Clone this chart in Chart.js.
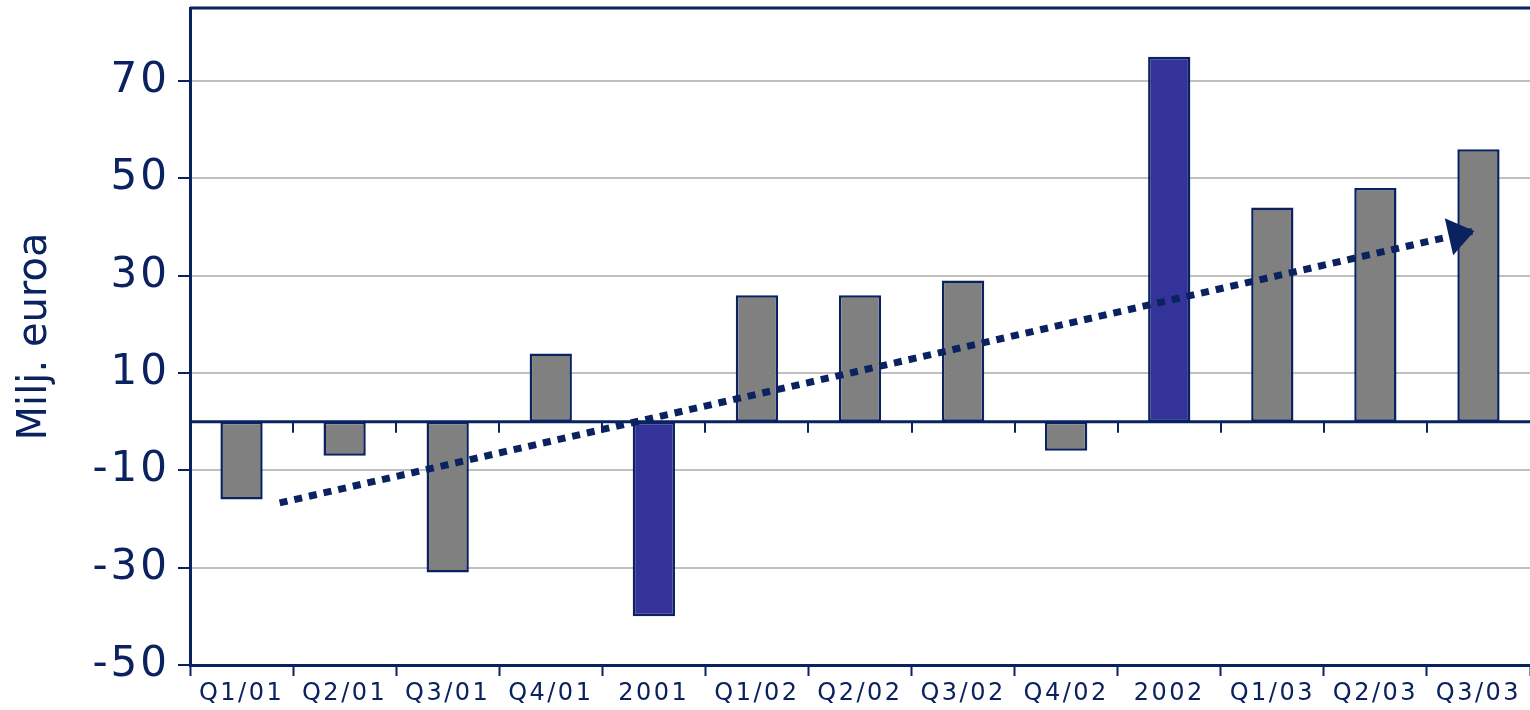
<!DOCTYPE html>
<html>
<head>
<meta charset="utf-8">
<script src="https://cdn.jsdelivr.net/npm/chart.js@4/dist/chart.umd.min.js"></script>
<style>
  html, body { margin: 0; padding: 0; background: #fff; }
  #wrap { width: 1530px; height: 710px; }
</style>
</head>
<body>
<div id="wrap"><canvas id="chart" width="1530" height="710"></canvas></div>
<script>
// data
const labels = ['Q1/01', 'Q2/01', 'Q3/01', 'Q4/01', '2001', 'Q1/02', 'Q2/02', 'Q3/02', 'Q4/02', '2002', 'Q1/03', 'Q2/03', 'Q3/03'];
const values = [-16, -7, -31, 14, -40, 26, 26, 29, -6, 75, 44, 48, 56];
const isYear = [false, false, false, false, true, false, false, false, false, true, false, false, false];
const yTicks = [-50, -30, -10, 10, 30, 50, 70];
const trendX = [0.37, 11.96];
const trendY = [-16.7, 39.2];

const navy = '#0a2260';
const grey = '#808080';
const yearBlue = '#333399';

// tick labels in the picture are spaced out a bit
function spaceLabels(scale, spacing) {
  if (scale._spaced) return;
  const orig = scale.drawLabels;
  scale.drawLabels = function (area) {
    const ctx = this.ctx;
    ctx.save();
    ctx.letterSpacing = spacing;
    orig.call(this, area);
    ctx.restore();
  };
  scale._spaced = true;
}

const extras = {
  id: 'extras',
  beforeDraw(chart) {
    spaceLabels(chart.scales.x, '2.5px');
    spaceLabels(chart.scales.y, '3px');
  },
  beforeDatasetsDraw(chart) {
    const { ctx, chartArea } = chart;
    const y = chart.scales.y;
    const xt = chart.scales.xt;
    const zero = y.getPixelForValue(0);
    ctx.save();
    ctx.strokeStyle = navy;
    // frame top
    ctx.lineWidth = 3;
    ctx.beginPath();
    ctx.moveTo(chartArea.left, chartArea.top);
    ctx.lineTo(chartArea.right, chartArea.top);
    ctx.stroke();
    // zero line with ticks between categories
    ctx.beginPath();
    ctx.moveTo(chartArea.left, zero);
    ctx.lineTo(chartArea.right, zero);
    ctx.stroke();
    ctx.lineWidth = 2;
    for (let i = 0; i < labels.length - 1; i++) {
      const px = Math.round(xt.getPixelForValue(i + 0.5));
      ctx.beginPath();
      ctx.moveTo(px, zero);
      ctx.lineTo(px, zero + 11);
      ctx.stroke();
    }
    ctx.restore();
  },
  afterDatasetsDraw(chart) {
    const meta = chart.getDatasetMeta(1);
    if (!meta || meta.data.length < 2) return;
    const a = meta.data[0], b = meta.data[meta.data.length - 1];
    const ang = Math.atan2(b.y - a.y, b.x - a.x);
    const ctx = chart.ctx;
    const len = 26, half = 19;
    ctx.save();
    ctx.translate(b.x, b.y);
    ctx.rotate(ang);
    ctx.fillStyle = navy;
    ctx.beginPath();
    ctx.moveTo(0, 0);
    ctx.lineTo(-len, -half);
    ctx.lineTo(-len, half);
    ctx.closePath();
    ctx.fill();
    ctx.restore();
  }
};

new Chart(document.getElementById('chart'), {
  type: 'bar',
  data: {
    labels: labels,
    datasets: [
      {
        data: values,
        backgroundColor: isYear.map(v => v ? yearBlue : grey),
        borderColor: navy,
        borderWidth: 2.5,
        borderSkipped: false,
        grouped: false,
        categoryPercentage: 1,
        barPercentage: 0.41,
        order: 2
      },
      {
        type: 'line',
        xAxisID: 'xt',
        data: trendX.map((x, i) => ({ x: x, y: trendY[i] })),
        borderColor: navy,
        borderWidth: 7,
        borderDash: [8, 7],
        pointRadius: 0,
        fill: false,
        order: 1
      }
    ]
  },
  options: {
    responsive: false,
    animation: false,
    layout: { padding: { top: 8, right: 0, left: 0, bottom: 0 } },
    plugins: {
      legend: { display: false },
      tooltip: { enabled: false }
    },
    scales: {
      x: {
        offset: true,
        grid: {
          offset: true,
          drawOnChartArea: false,
          drawTicks: true,
          tickLength: 11,
          tickColor: navy,
          tickWidth: 2
        },
        border: { color: navy, width: 3 },
        ticks: {
          color: navy,
          font: { family: 'DejaVu Sans', size: 24 },
          padding: 3,
          maxRotation: 0,
          autoSkip: false
        },
        afterFit(scale) { scale.height = 45; }
      },
      xt: {
        type: 'linear',
        display: false,
        offset: false,
        min: -0.5,
        max: labels.length - 0.5
      },
      y: {
        min: -50,
        max: 85,
        afterBuildTicks(scale) {
          scale.ticks = yTicks.map(v => ({ value: v }));
        },
        grid: {
          color: '#c0c0c0',
          lineWidth: 2,
          tickColor: navy,
          tickWidth: 2,
          tickLength: 12
        },
        border: { color: navy, width: 3 },
        ticks: {
          color: navy,
          font: { family: 'DejaVu Sans', size: 42 },
          padding: 8
        },
        title: {
          display: true,
          text: 'Milj. euroa',
          color: navy,
          font: { family: 'DejaVu Sans', size: 40 },
          padding: { top: 12, bottom: 0 }
        },
        afterFit(scale) {
          scale.width = 190;
          scale.paddingTop = 0;
          scale.paddingBottom = 0;
        }
      }
    }
  },
  plugins: [extras]
});
</script>
</body>
</html>
